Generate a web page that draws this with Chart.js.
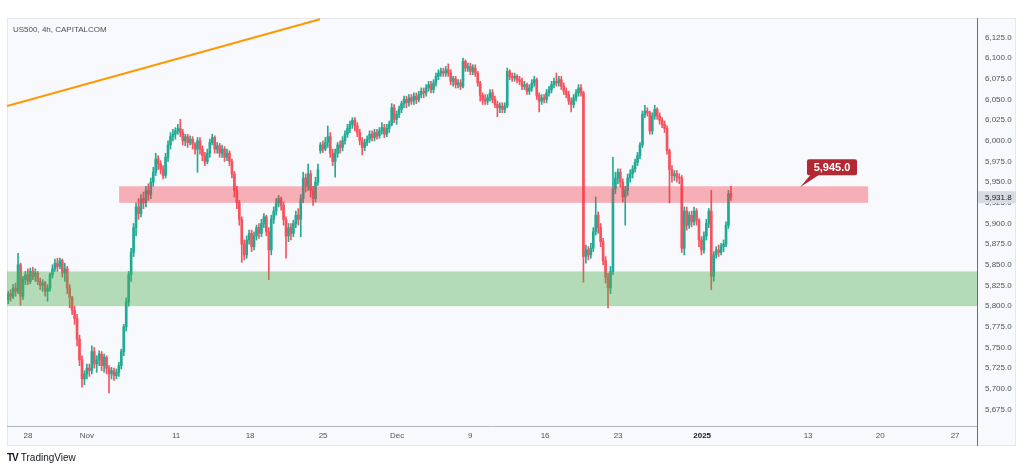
<!DOCTYPE html>
<html>
<head>
<meta charset="utf-8">
<title>US500, 4h</title>
<script src="https://cdn.jsdelivr.net/npm/chart.js@4.4.1/dist/chart.umd.min.js"></script>
<style>
  html, body { margin: 0; padding: 0; background: #fff; }
  #wrap { position: relative; width: 1024px; height: 471px; overflow: hidden; }
  #chart { position: absolute; left: 0; top: 0; }
  .title { position: absolute; left: 13px; top: 25px; line-height: 10px; font: 8px "Liberation Sans", Arial, sans-serif; color: #4a4e59; }
  .brand { position: absolute; left: 7px; top: 452px; line-height: 12px; font: 10px "Liberation Sans", Arial, sans-serif; color: #131722; }
  .brand b { font-size: 10px; letter-spacing: -1px; margin-right: 3px; }
</style>
</head>
<body>
<div id="wrap">
  <canvas id="chart" width="1024" height="471"></canvas>
  <div class="title">US500, 4h, CAPITALCOM</div>
  <div class="brand"><b>TV</b>TradingView</div>
</div>
<script>
// ================= DATA (4h candles, index = bar number) =================

const opens = [
  5808,5815,5812,5822,5818,5850,5812,5832,5838,5830,
  5842,5836,5840,5830,5825,5828,5818,5822,5838,5845,
  5852,5848,5855,5840,5845,5822,5810,5795,5785,5760,
  5735,5712,5718,5725,5722,5745,5730,5735,5742,5728,
  5738,5725,5718,5722,5716,5720,5728,5745,5775,5805,
  5838,5865,5895,5920,5912,5930,5925,5940,5935,5950,
  5962,5978,5972,5966,5958,5980,5995,6005,6008,6012,
  6015,6010,6000,6005,5998,6002,5996,5990,6000,5990,
  5982,5975,5985,5998,6004,5990,5994,5985,5990,5980,
  5985,5975,5960,5940,5925,5905,5875,5862,5880,5888,
  5872,5885,5895,5888,5900,5908,5890,5868,5905,5915,
  5925,5930,5922,5905,5885,5895,5888,5900,5910,5905,
  5930,5955,5945,5960,5940,5930,5950,5988,5995,5990,
  5998,6005,5985,5975,5985,5995,5992,6000,6008,6015,
  6020,6025,6018,6010,6000,5992,5998,6002,6008,6004,
  6010,6006,6012,6016,6008,6015,6020,6040,6026,6032,
  6038,6045,6050,6046,6052,6048,6054,6050,6056,6060,
  6058,6064,6068,6062,6070,6078,6082,6084,6082,6086,
  6082,6072,6075,6068,6070,6066,6096,6088,6090,6084,
  6088,6082,6070,6055,6050,6048,6052,6058,6050,6044,
  6040,6042,6038,6042,6084,6078,6076,6078,6074,6072,
  6066,6068,6060,6064,6070,6074,6055,6048,6052,6050,
  6058,6062,6068,6072,6070,6074,6066,6060,6056,6048,
  6044,6052,6058,6064,6058,5860,5868,5862,5870,5890,
  5910,5895,5878,5855,5835,5822,5842,5942,5955,5962,
  5950,5932,5940,5955,5960,5966,5974,5982,5995,6032,
  6036,6034,6012,6030,6038,6030,6025,6020,6015,5988,
  5965,5958,5960,5956,5955,5870,5915,5898,5910,5902,
  5915,5904,5880,5868,5885,5900,5915,5836,5862,5868,
  5865,5872,5875,5898,5936
];

const highs = [
  5818,5820,5826,5828,5864,5852,5836,5842,5845,5846,
  5847,5845,5842,5834,5832,5830,5826,5840,5850,5857,
  5858,5858,5857,5852,5848,5826,5812,5800,5790,5765,
  5740,5722,5730,5730,5752,5750,5740,5746,5745,5742,
  5740,5728,5726,5725,5724,5732,5748,5778,5810,5842,
  5870,5900,5925,5930,5935,5938,5945,5948,5955,5968,
  5985,5982,5976,5970,5985,6000,6010,6014,6016,6020,
  6026,6014,6008,6008,6006,6005,5998,6004,6004,5994,
  5986,5990,6002,6008,6006,5998,5997,5995,5993,5990,
  5988,5978,5963,5945,5928,5908,5880,5885,5892,5892,
  5890,5898,5900,5905,5912,5910,5895,5910,5920,5930,
  5934,5932,5926,5908,5900,5900,5904,5915,5918,5935,
  5962,5960,5972,5964,5945,5956,5972,5998,6000,6004,
  6018,6010,5990,5990,5998,6000,6005,6012,6020,6024,
  6028,6028,6022,6014,6004,6002,6006,6012,6012,6014,
  6014,6016,6022,6020,6020,6024,6045,6044,6036,6042,
  6048,6054,6054,6056,6056,6058,6058,6060,6064,6064,
  6068,6072,6072,6074,6082,6086,6088,6088,6090,6093,
  6086,6078,6078,6074,6074,6100,6098,6094,6094,6092,
  6092,6084,6072,6058,6056,6056,6062,6062,6054,6048,
  6046,6046,6046,6088,6086,6082,6082,6080,6078,6076,
  6072,6070,6068,6074,6078,6076,6058,6056,6056,6062,
  6066,6072,6076,6082,6078,6078,6070,6064,6060,6052,
  6056,6062,6068,6068,6060,5874,5872,5876,5895,5932,
  5914,5900,5882,5860,5840,5848,5980,5962,5966,5966,
  5954,5945,5960,5965,5970,5978,5986,5998,6036,6043,
  6040,6036,6034,6043,6040,6034,6028,6024,6018,5990,
  5970,5964,5964,5960,5958,5920,5920,5914,5915,5920,
  5918,5906,5884,5890,5905,5918,5940,5866,5872,5874,
  5876,5880,5902,5940,5945
];

const lows = [
  5803,5806,5809,5812,5815,5801,5808,5826,5826,5827,
  5832,5830,5826,5820,5818,5812,5806,5818,5834,5842,
  5842,5845,5835,5830,5815,5798,5790,5778,5752,5728,
  5702,5705,5712,5715,5718,5725,5720,5728,5722,5720,
  5718,5695,5712,5710,5712,5715,5724,5740,5770,5800,
  5830,5860,5885,5905,5908,5918,5920,5928,5930,5945,
  5958,5965,5960,5954,5955,5975,5990,6000,6002,6008,
  6005,5995,5994,5992,5995,5990,5984,5962,5984,5976,
  5970,5972,5980,5995,5985,5985,5980,5980,5975,5976,
  5970,5955,5932,5918,5898,5853,5856,5858,5875,5866,
  5868,5880,5882,5884,5895,5885,5832,5862,5900,5910,
  5920,5916,5898,5858,5878,5880,5884,5895,5898,5884,
  5925,5938,5940,5932,5922,5926,5946,5985,5986,5988,
  5992,5980,5970,5956,5980,5985,5988,5996,6004,6010,
  6015,6012,6005,5995,5983,5988,5994,5998,6000,6000,
  6002,6003,6008,6004,6005,6010,6018,6022,6020,6028,
  6034,6040,6040,6042,6044,6044,6045,6047,6052,6052,
  6054,6060,6058,6058,6066,6074,6078,6078,6078,6078,
  6068,6066,6064,6064,6062,6064,6084,6084,6080,6080,
  6078,6066,6048,6044,6044,6044,6048,6046,6040,6029,
  6034,6034,6034,6040,6074,6072,6072,6070,6068,6062,
  6062,6056,6056,6060,6066,6050,6035,6044,6046,6046,
  6054,6058,6064,6066,6066,6062,6056,6052,6044,6035,
  6040,6048,6054,6054,5829,5852,5856,5858,5866,5886,
  5888,5872,5850,5828,5798,5815,5838,5936,5948,5944,
  5926,5898,5934,5950,5955,5962,5970,5978,5992,6028,
  6030,6008,6008,6026,6026,6020,6016,6010,5984,5925,
  5950,5952,5950,5948,5865,5862,5892,5894,5896,5898,
  5898,5872,5862,5864,5880,5895,5820,5830,5858,5860,
  5862,5866,5872,5894,5928
];

const closes = [
  5815,5812,5822,5818,5850,5812,5832,5838,5830,5842,
  5836,5840,5830,5825,5828,5818,5822,5838,5845,5852,
  5848,5855,5840,5845,5822,5810,5795,5785,5760,5735,
  5712,5718,5725,5722,5745,5730,5735,5742,5728,5738,
  5725,5718,5722,5716,5720,5728,5745,5775,5805,5838,
  5865,5895,5920,5912,5930,5925,5940,5935,5950,5962,
  5978,5972,5966,5958,5980,5995,6005,6008,6012,6015,
  6010,6000,6005,5998,6002,5996,5990,6000,5990,5982,
  5975,5985,5998,6004,5990,5994,5985,5990,5980,5985,
  5975,5960,5940,5925,5905,5875,5862,5880,5888,5872,
  5885,5895,5888,5900,5908,5890,5868,5905,5915,5925,
  5930,5922,5905,5885,5895,5888,5900,5910,5905,5930,
  5955,5945,5960,5940,5930,5950,5965,5995,5990,5998,
  6005,5985,5975,5985,5995,5992,6000,6008,6015,6020,
  6025,6018,6010,6000,5992,5998,6002,6008,6004,6010,
  6006,6012,6016,6008,6015,6020,6040,6026,6032,6038,
  6045,6050,6046,6052,6048,6054,6050,6056,6060,6058,
  6064,6068,6062,6070,6078,6082,6084,6082,6086,6082,
  6072,6075,6068,6070,6066,6096,6088,6090,6084,6088,
  6082,6070,6055,6050,6048,6052,6058,6050,6044,6040,
  6042,6038,6042,6084,6078,6076,6078,6074,6072,6066,
  6068,6060,6064,6070,6074,6055,6048,6052,6050,6058,
  6062,6068,6072,6070,6074,6066,6060,6056,6048,6044,
  6052,6058,6064,6058,5860,5868,5862,5870,5890,5910,
  5895,5878,5855,5835,5822,5842,5942,5955,5962,5950,
  5932,5940,5955,5960,5966,5974,5982,5995,6032,6036,
  6034,6012,6030,6038,6030,6025,6020,6015,5988,5965,
  5958,5960,5956,5955,5870,5915,5898,5910,5902,5915,
  5904,5880,5868,5885,5900,5915,5836,5862,5868,5865,
  5872,5875,5898,5936,5931.8
];

// time axis: bar position of each date label
const xTickPos = [8, 32, 68.3, 98.4, 128.1, 158.2, 187.9, 218.4, 248.1, 282.3, 325.4, 354.7, 385.2];
const xTickLabels = ["28", "Nov", "11", "18", "25", "Dec", "9", "16", "23", "2025", "13", "20", "27"];

const yTickValues = [5675, 5700, 5725, 5750, 5775, 5800, 5825, 5850, 5875, 5900,
  5925, 5950, 5975, 6000, 6025, 6050, 6075, 6100, 6125];

// drawings
const resistZone = [5925, 5945];      // price range (red)
const resistBars = [45.1, 349.8];     // bar range
const supportZone = [5800, 5842];     // price range (green)
const trendBars = [-0.5, 126.8];
const trendPrices = [6042, 6147];
const calloutBar = 322.1;
const calloutPrice = 5945.0;
const lastPrice = 5931.8;

// ================= STYLE =================

const UP = "#22ab94";
const DOWN = "#f7525f";
const TEXT = "#50535e";
const FONT = "'Liberation Sans', Arial, sans-serif";
const X_MIN = -0.5, X_MAX = 394.1;

Chart.defaults.font.family = FONT;

const fmt = v => Number(v).toLocaleString("en-US", { minimumFractionDigits: 1, maximumFractionDigits: 1 });
const isUp = closes.map((c, i) => c >= opens[i]);
const barColors = isUp.map(u => (u ? UP : DOWN));

// ================= PLUGINS =================

const frame = {
  id: "frame",
  beforeDraw(chart) {
    const c = chart.ctx;
    c.save();
    c.fillStyle = "#ffffff";
    c.fillRect(0, 0, chart.width, chart.height);
    c.fillStyle = "#f8f9fc";
    c.fillRect(7, 18, 1009, 428);
    c.strokeStyle = "#e6e8ee";
    c.lineWidth = 1;
    c.strokeRect(7.5, 18.5, 1008, 427);
    c.restore();
  },
  afterDraw(chart) {
    const c = chart.ctx;
    const a = chart.chartArea;
    c.save();
    // axis separator continues through the time scale row
    c.strokeStyle = "#6a6d78";
    c.beginPath();
    c.moveTo(a.right + 0.5, a.bottom);
    c.lineTo(a.right + 0.5, 446);
    c.stroke();

    // last price label
    const y = chart.scales.y.getPixelForValue(lastPrice);
    c.fillStyle = "#d9dbe2";
    c.fillRect(a.right + 1, y - 6, 38, 12);
    c.fillStyle = "#131722";
    c.font = "8px " + FONT;
    c.textBaseline = "middle";
    c.textAlign = "left";
    c.fillText(fmt(lastPrice), a.right + 8, y + 0.5);
    c.restore();
  }
};

const zones = {
  id: "zones",
  afterDatasetsDraw(chart) {
    const { ctx: c, chartArea: a, scales: { x, y } } = chart;
    c.save();
    c.beginPath();
    c.rect(a.left, a.top, a.right - a.left, a.bottom - a.top);
    c.clip();

    // support (green) - full width
    const gTop = y.getPixelForValue(supportZone[1]);
    const gBot = y.getPixelForValue(supportZone[0]);
    c.fillStyle = "rgba(76,175,80,0.40)";
    c.fillRect(a.left, gTop, a.right - a.left, gBot - gTop);

    // resistance (red)
    const rTop = y.getPixelForValue(resistZone[1]);
    const rBot = y.getPixelForValue(resistZone[0]);
    const rL = x.getPixelForValue(resistBars[0]);
    const rR = x.getPixelForValue(resistBars[1]);
    c.fillStyle = "rgba(242,54,69,0.38)";
    c.fillRect(rL, rTop, rR - rL, rBot - rTop);

    // callout
    const ax = x.getPixelForValue(calloutBar);
    const ay = y.getPixelForValue(calloutPrice) + 1;
    const bx = ax + 7, by = ay - 28, bw = 50, bh = 16;
    c.fillStyle = "#b22833";
    c.beginPath();
    c.moveTo(ax, ay);
    c.lineTo(bx + 4, by + bh - 1);
    c.lineTo(bx + 13, by + bh - 1);
    c.closePath();
    c.fill();
    c.beginPath();
    c.roundRect(bx, by, bw, bh, 2);
    c.fill();
    c.fillStyle = "#ffffff";
    c.font = "bold 11px " + FONT;
    c.textAlign = "center";
    c.textBaseline = "middle";
    c.fillText(fmt(calloutPrice), bx + bw / 2, by + bh / 2 + 0.5);
    c.restore();
  }
};

// ================= CHART =================

new Chart(document.getElementById("chart"), {
  data: {
    datasets: [
      {
        type: "line",
        data: trendBars.map((b, i) => ({ x: b, y: trendPrices[i] })),
        borderColor: "#ff9800",
        borderWidth: 2,
        pointRadius: 0,
        clip: 0,
        order: 0
      },
      {
        type: "bar",
        data: opens.map((o, i) => ({ x: i, y: [o, closes[i]] })),
        backgroundColor: barColors,
        barThickness: 2,
        grouped: false,
        order: 1
      },
      {
        type: "bar",
        data: opens.map((o, i) => ({ x: i, y: [lows[i], highs[i]] })),
        backgroundColor: barColors,
        barThickness: 1,
        grouped: false,
        order: 2
      }
    ]
  },
  options: {
    responsive: false,
    animation: false,
    events: [],
    layout: { padding: { left: 7, top: 18, right: 8, bottom: 25 } },
    plugins: { legend: { display: false }, tooltip: { enabled: false } },
    scales: {
      x: {
        type: "linear",
        offset: false,
        min: X_MIN,
        max: X_MAX,
        grid: { display: false, drawTicks: false, offset: false },
        border: { display: true, color: "#b2b5be" },
        afterBuildTicks: s => { s.ticks = xTickPos.map(v => ({ value: v })); },
        afterFit: s => { s.height = 20; },
        ticks: {
          autoSkip: false,
          maxRotation: 0,
          padding: 5,
          color: ctx => (ctx.index === 9 ? "#131722" : TEXT),
          font: ctx => ({ size: 8, weight: ctx.index === 9 ? "bold" : "normal" }),
          callback: (v, i) => xTickLabels[i]
        }
      },
      y: {
        type: "linear",
        position: "right",
        min: 5655,
        max: 6148.6,
        grid: { display: false, drawTicks: false },
        border: { display: true, color: "#6a6d78" },
        afterBuildTicks: s => { s.ticks = yTickValues.map(v => ({ value: v })); },
        afterFit: s => { s.width = 39; },
        ticks: {
          padding: 8,
          color: TEXT,
          font: { size: 8 },
          callback: v => fmt(v)
        }
      }
    }
  },
  plugins: [frame, zones]
});
</script>
</body>
</html>
